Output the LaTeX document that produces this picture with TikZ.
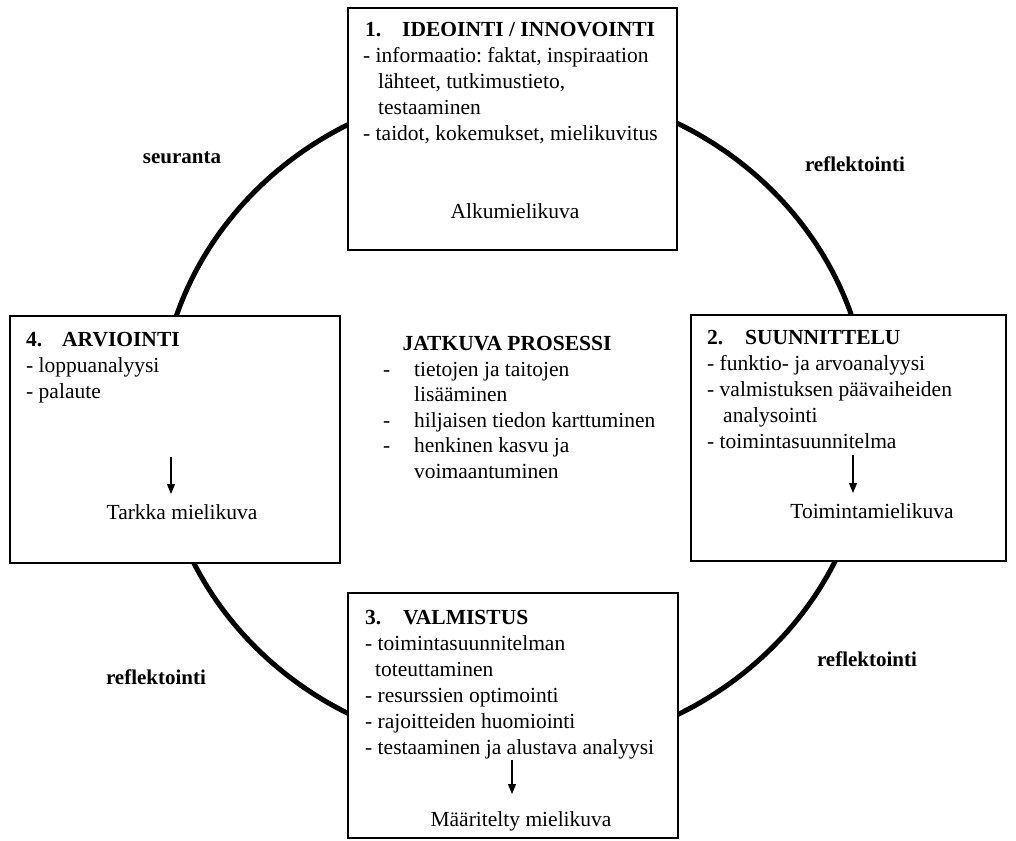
\documentclass[tikz,border=0pt]{standalone}
\usepackage{fontspec}
\setmainfont{Liberation Serif}
\frenchspacing
\usetikzlibrary{arrows.meta}
\newcommand\normsp{\spaceskip=0pt\xspaceskip=0pt\relax}
\begin{document}
\frenchspacing
\begin{tikzpicture}[x=1pt,y=-1pt,
  box/.style={draw, line width=1.7pt, fill=white, inner sep=0pt},
  txt/.style={anchor=base west, inner sep=0pt, text width=330pt, align=left,
              font=\fontsize{21.5}{26}\selectfont\frenchspacing},
  ctr/.style={anchor=base, inner sep=0pt, font=\fontsize{21.5}{26}\selectfont},
  lbl/.style={anchor=base, inner sep=0pt, font=\fontsize{21}{26}\selectfont\bfseries},
  arr/.style={line width=1.1pt, -{Triangle[length=10pt,width=8pt]}}]
\useasboundingbox (0,0) rectangle (1016,840);
\fill[white] (0,0) rectangle (1016,840);
% cycle
\draw[line width=5pt] (514,419) ellipse [x radius=355, y radius=333];
% boxes
\node[box, minimum width=329pt, minimum height=242pt] (b1) at (512.5,129) {};
\node[box, minimum width=315pt, minimum height=246pt] (b2) at (848.5,438) {};
\node[box, minimum width=330pt, minimum height=245pt] (b3) at (513,715.5) {};
\node[box, minimum width=330pt, minimum height=247pt] (b4) at (175,439.5) {};
% box 1
\node[txt] (t1) at (363,37) {\normsp\hspace*{2pt}\textbf{\makebox[37pt][l]{1.}IDEOINTI / INNOVOINTI}\\
- informaatio: faktat, inspiraation\\
\hspace*{15pt}lähteet, tutkimustieto,\\
\hspace*{15pt}testaaminen\\
- taidot, kokemukset, mielikuvitus};
\node[ctr] (m1) at (515,218) {Alkumielikuva};
% box 2
\node[txt] (t2) at (707,344) {\normsp\textbf{\makebox[38pt][l]{2.}SUUNNITTELU}\\
- funktio- ja arvoanalyysi\\
- valmistuksen päävaiheiden\\
\hspace*{16pt}analysointi\\
- toimintasuunnitelma};
\coordinate (a2s) at (853,455);
\coordinate (a2e) at (853,493);
\draw[arr] (a2s) -- (a2e);
\node[ctr] (m2) at (872,518) {Toimintamielikuva};
% box 3
\node[txt] (t3) at (365,624) {\normsp\textbf{\makebox[38pt][l]{3.}VALMISTUS}\\
- toimintasuunnitelman\\
\hspace*{10pt}toteuttaminen\\
- resurssien optimointi\\
- rajoitteiden huomiointi\\
- testaaminen ja alustava analyysi};
\coordinate (a3s) at (512,760);
\coordinate (a3e) at (512,794);
\draw[arr] (a3s) -- (a3e);
\node[ctr] (m3) at (521,826) {Määritelty mielikuva};
% box 4
\node[txt] (t4) at (26,346) {\normsp\textbf{\makebox[36pt][l]{4.}ARVIOINTI}\\
- loppuanalyysi\\
- palaute};
\coordinate (a4s) at (171,457);
\coordinate (a4e) at (171,494);
\draw[arr] (a4s) -- (a4e);
\node[ctr] (m4) at (182,519) {Tarkka mielikuva};
% centre
\node[ctr, font=\fontsize{21.5}{26}\selectfont\bfseries] (jp) at (507,350) {JATKUVA PROSESSI};
\node[txt, text width=300pt, font=\fontsize{21.5}{25.5}\selectfont\frenchspacing] (jl) at (383,376) {\normsp\makebox[31pt][l]{-}tietojen ja taitojen\\
\hspace*{31pt}lisääminen\\
\makebox[31pt][l]{-}hiljaisen tiedon karttuminen\\
\makebox[31pt][l]{-}henkinen kasvu ja\\
\hspace*{31pt}voimaantuminen};
% labels
\node[lbl] (l1) at (182,163) {seuranta};
\node[lbl] (l2) at (855,171) {reflektointi};
\node[lbl] (l3) at (867,666) {reflektointi};
\node[lbl] (l4) at (156,684) {reflektointi};
\end{tikzpicture}
\end{document}
